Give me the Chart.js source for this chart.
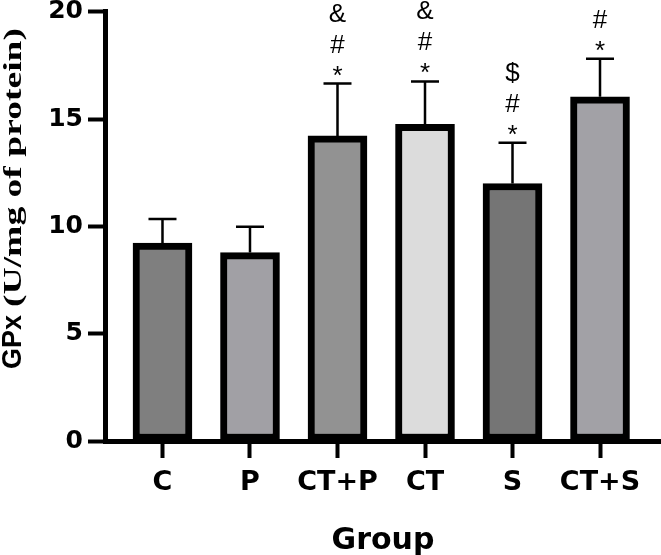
<!DOCTYPE html>
<html lang="en">
<head>
<meta charset="UTF-8">
<title>GPx</title>
<script src="https://cdn.jsdelivr.net/npm/chart.js"></script>
<style>
  html, body { margin: 0; padding: 0; background: #fff; }
  #wrap { width: 661px; height: 555px; }
</style>
</head>
<body>
<div id="wrap"><canvas id="grafico"></canvas></div>
<script>
// dados
const grupos = ['C', 'P', 'CT+P', 'CT', 'S', 'CT+S'];
const medias = [9.22, 8.78, 14.22, 14.76, 12.0, 16.04];
const desvios = [1.13, 1.2, 2.44, 2.0, 1.9, 1.77];
const marcas = [[], [], ['*', '#', '&'], ['*', '#', '&'], ['*', '#', '$'], ['*', '#']];
const cores = ['#7f7f7f', '#a1a0a5', '#929292', '#dcdcdc', '#757575', '#a2a1a6'];

// barras de erro (só para cima) + marcas de significância
const barrasErro = {
    id: 'barrasErro',
    afterDatasetsDraw(chart) {
        const ctx = chart.ctx;
        const y = chart.scales.y;
        const meta = chart.getDatasetMeta(0);
        ctx.save();
        ctx.strokeStyle = '#000';
        ctx.fillStyle = '#000';
        ctx.lineWidth = 2.5;
        meta.data.forEach((bar, i) => {
            const topo = y.getPixelForValue(medias[i] + desvios[i]);
            ctx.beginPath();
            ctx.moveTo(bar.x, bar.y);
            ctx.lineTo(bar.x, topo);
            ctx.moveTo(bar.x - 14, topo);
            ctx.lineTo(bar.x + 14, topo);
            ctx.stroke();
            ctx.font = '26px "Liberation Sans", Arial, sans-serif';
            ctx.textAlign = 'center';
            ctx.textBaseline = 'alphabetic';
            marcas[i].forEach((m, k) => {
                ctx.fillText(m, bar.x, topo - k * 31);
            });
        });
        ctx.restore();
    }
};

// título do eixo Y com duas fontes
const tituloY = {
    id: 'tituloY',
    afterDraw(chart) {
        const ctx = chart.ctx;
        ctx.save();
        ctx.translate(21, 369);
        ctx.rotate(-Math.PI / 2);
        ctx.fillStyle = '#000';
        ctx.textAlign = 'left';
        ctx.textBaseline = 'alphabetic';
        ctx.font = 'bold 27px "Liberation Sans", Arial, sans-serif';
        ctx.fillText('GPx', 0, 0);
        ctx.font = 'bold 25px "Liberation Serif", "Times New Roman", serif';
        const txt = '(U/mg of protein)';
        const w = ctx.measureText(txt).width;
        ctx.translate(62, 0);
        ctx.scale(279 / w, 1);
        ctx.fillText(txt, 0, 0);
        ctx.restore();
    }
};

const ctxGrafico = document.getElementById('grafico').getContext('2d');
new Chart(ctxGrafico, {
    type: 'bar',
    data: {
        datasets: [{
            data: medias.map((v, i) => ({ x: i, y: v })),
            backgroundColor: cores,
            borderColor: '#000',
            borderWidth: 7,
            borderSkipped: false,
            barThickness: 59
        }]
    },
    options: {
        responsive: true,
        maintainAspectRatio: false,
        animation: false,
        layout: { padding: { left: 0, right: 0, top: 0, bottom: 0 } },
        plugins: {
            legend: { display: false },
            tooltip: { enabled: false }
        },
        scales: {
            x: {
                type: 'linear',
                offset: false,
                min: -0.657,
                max: 5.697,
                z: 1,
                afterBuildTicks: s => { s.ticks = grupos.map((g, i) => ({ value: i })); },
                afterFit: s => { s.height = 114; },
                ticks: {
                    autoSkip: false,
                    maxRotation: 0,
                    padding: 11,
                    color: '#000',
                    font: { family: '"DejaVu Sans"', weight: 'bold', size: 27, lineHeight: 1 },
                    callback: v => grupos[v]
                },
                grid: { offset: false, drawOnChartArea: false, drawTicks: true, tickLength: 17, tickWidth: 4, tickColor: '#000' },
                border: { display: true, width: 5, color: '#000' },
                title: {
                    display: true,
                    text: 'Group',
                    color: '#000',
                    font: { family: '"DejaVu Sans"', weight: 'bold', size: 30, lineHeight: 0.95 },
                    padding: { top: 0, bottom: 0 }
                }
            },
            y: {
                min: 0,
                max: 20,
                afterFit: s => { s.width = 105; },
                ticks: {
                    stepSize: 5,
                    padding: 5,
                    color: '#000',
                    font: { family: '"DejaVu Sans"', weight: 'bold', size: 25, lineHeight: 0.55 }
                },
                grid: { drawOnChartArea: false, drawTicks: true, tickLength: 17, tickWidth: 4, tickColor: '#000' },
                border: { display: true, width: 5, color: '#000' }
            }
        }
    },
    plugins: [barrasErro, tituloY]
});
</script>
</body>
</html>
